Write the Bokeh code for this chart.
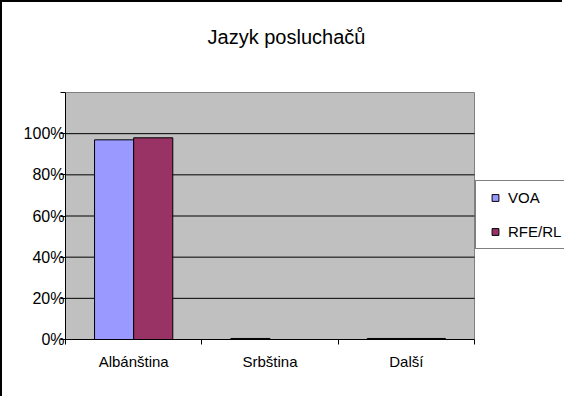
from bokeh.plotting import figure
from bokeh.models import (Range1d, FixedTicker, Legend, LegendItem, ColumnDataSource, Label)
from bokeh.embed import file_html
from bokeh.resources import INLINE

title = "Jazyk posluchačů"
categories = ["Albánština", "Srbština", "Další"]
series_names = ["VOA", "RFE/RL"]
voa = [97.0, 0.5, 0.5]
rfe = [98.0, 0.0, 0.5]
y_ticks = [0, 20, 40, 60, 80, 100, 120]
y_labels = ["0%", "20%", "40%", "60%", "80%", "100%", ""]
colors = ["#9999FF", "#993366"]

FONT = "Liberation Sans"

W, H = 562, 396
ML, MB = 63, 59
area_top_px = 90              # distance of the grey plot area from the canvas top
plot_area_w = 409             # width of the grey plot area
n = len(categories)
frame_h = H - MB
area_h = frame_h - area_top_px
x_end = n * (W - ML) / plot_area_w          # frame extends right to hold the legend
y_end = y_ticks[-1] * frame_h / area_h      # frame extends up to hold the title
px_x = plot_area_w / n
px_y = area_h / y_ticks[-1]

p = figure(width=W, height=H, output_backend="svg", toolbar_location=None,
           x_range=Range1d(0, x_end), y_range=Range1d(y_ticks[0], y_end),
           min_border_left=ML, min_border_top=0, min_border_right=0, min_border_bottom=MB)
p.styles = {"border-left": "2px solid black", "border-top": "2px solid black"}
p.background_fill_color = "white"
p.border_fill_color = "white"
p.outline_line_color = None

# grey plot area and gridlines
p.quad(left=[0], right=[n], bottom=[y_ticks[0]], top=[y_ticks[-1]],
       fill_color="#C0C0C0", line_color="#808080", line_width=1)
gy = y_ticks[1:-1]
p.segment(x0=[0] * len(gy), x1=[n] * len(gy), y0=gy, y1=gy, line_color="black", line_width=1)

centers = [i + 0.5 for i in range(n)]
bw = 0.287
src = ColumnDataSource(dict(x_voa=[c - bw / 2 for c in centers],
                            x_rfe=[c + bw / 2 for c in centers],
                            voa=voa, rfe=rfe))
r1 = p.vbar(x="x_voa", top="voa", width=bw, source=src, fill_color=colors[0],
            line_color="black", line_width=1)
r2 = p.vbar(x="x_rfe", top="rfe", width=bw, source=src, fill_color=colors[1],
            line_color="black", line_width=1)

# legend glyph proxies (no visible data)
nan = float("nan")
d1 = p.scatter(x=[nan], y=[nan], marker="square", size=7, fill_color=colors[0], line_color="black")
d2 = p.scatter(x=[nan], y=[nan], marker="square", size=7, fill_color=colors[1], line_color="black")

# axes
p.xaxis.bounds = (0, n)
p.xaxis.ticker = FixedTicker(ticks=centers, minor_ticks=list(range(n + 1)))
p.xaxis.major_label_overrides = {c: nm for c, nm in zip(centers, categories)}
p.xaxis.major_tick_out = 0
p.xaxis.major_tick_in = 0
p.xaxis.minor_tick_out = 5
p.xaxis.minor_tick_in = 0
p.xaxis.minor_tick_line_color = "black"
p.xaxis.major_label_standoff = 8
p.xaxis.axis_line_color = "black"
p.xaxis.major_label_text_font_size = "15px"

p.yaxis.bounds = (y_ticks[0], y_ticks[-1])
p.yaxis.ticker = FixedTicker(ticks=y_ticks, minor_ticks=[])
p.yaxis.major_label_overrides = {t: l for t, l in zip(y_ticks, y_labels)}
p.yaxis.major_tick_out = 5
p.yaxis.major_tick_in = 0
p.yaxis.major_label_standoff = -4
p.yaxis.axis_line_color = "black"
p.yaxis.major_label_text_font_size = "16px"

for ax in (p.xaxis[0], p.yaxis[0]):
    ax.major_label_text_font = FONT
    ax.major_label_text_color = "black"
    ax.major_tick_line_color = "black"

p.xgrid.grid_line_color = None
p.ygrid.grid_line_color = None

# chart title (centre 221 px right of the plot area, baseline 303 px above its bottom)
p.add_layout(Label(x=221 / px_x, y=303 / px_y, text=title,
                   text_align="center", text_baseline="alphabetic",
                   text_font=FONT, text_font_size="20px", text_color="black"))

legend = Legend(items=[LegendItem(label=series_names[0], renderers=[d1]),
                       LegendItem(label=series_names[1], renderers=[d2])],
                location=(410, 90), orientation="vertical",
                glyph_width=22, glyph_height=17, label_height=17, label_standoff=2,
                spacing=17, padding=8, margin=0,
                border_line_color="black", border_line_width=1,
                background_fill_color="white", background_fill_alpha=1,
                label_text_font=FONT, label_text_font_size="15px", label_text_color="black")
p.add_layout(legend, "center")

open("out.html", "w").write(file_html(p, INLINE))
